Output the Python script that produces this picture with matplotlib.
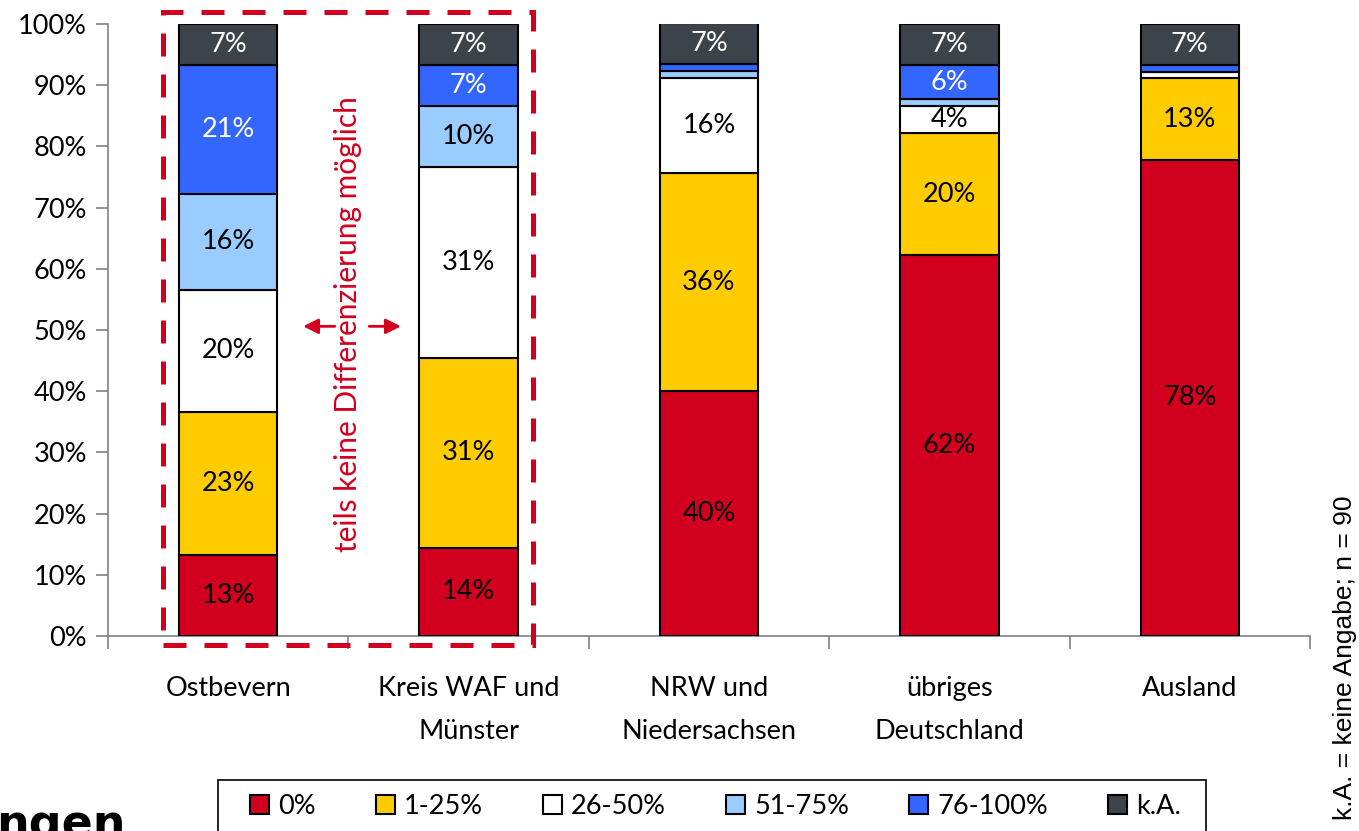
import matplotlib
matplotlib.use("Agg")
import matplotlib.pyplot as plt
from matplotlib.patches import Rectangle, Patch
import numpy as np

categories = ["Ostbevern", "Kreis WAF und\nMünster", "NRW und\nNiedersachsen", "übriges\nDeutschland", "Ausland"]
series_names = ["0%", "1-25%", "26-50%", "51-75%", "76-100%", "k.A."]
# percentages (n = 90)
v_0 = [13.3, 14.4, 40.0, 62.2, 77.8]
v_1_25 = [23.3, 31.1, 35.6, 20.0, 13.3]
v_26_50 = [20.0, 31.1, 15.6, 4.4, 1.1]
v_51_75 = [15.6, 10.0, 1.1, 1.1, 0.0]
v_76_100 = [21.1, 6.7, 1.1, 5.6, 1.1]
v_ka = [6.7, 6.7, 6.7, 6.7, 6.7]
series = [v_0, v_1_25, v_26_50, v_51_75, v_76_100, v_ka]
colors = ["#D2001E", "#FFCC00", "#FFFFFF", "#99CCFF", "#3366FF", "#3D434A"]
label_colors = ["black", "black", "black", "black", "white", "white"]

plt.rcParams['font.family'] = ['Lato', 'DejaVu Sans']

fig = plt.figure(figsize=(13.59, 8.31), dpi=100)
ax = fig.add_axes([108/1359, 1-636/831, (1310-108)/1359, (636-24)/831])

x = np.arange(len(categories))
bottom = np.zeros(len(categories))
for vals, col, lc in zip(series, colors, label_colors):
    vals = np.array(vals)
    ax.bar(x, vals, 0.41, bottom=bottom, color=col, edgecolor="black", linewidth=1.5, zorder=3)
    for xi, b, v in zip(x, bottom, vals):
        if v >= 3.5:
            ax.text(xi, b + v/2, f"{v:.0f}%", ha="center", va="center", fontsize=19.5, color=lc, zorder=4)
    bottom += vals

ax.set_xlim(-0.5, len(categories) - 0.5)
ax.set_ylim(0, 100)
ax.set_yticks(np.arange(0, 101, 10))
ax.set_yticklabels([f"{t}%" for t in range(0, 101, 10)], fontsize=19.5)
ax.set_xticks(x)
ax.set_xticklabels(categories, fontsize=19.5, linespacing=1.9)
ax.set_xticks(np.arange(-0.5, len(categories), 1), minor=True)
ax.tick_params(axis='x', which='major', length=0, pad=29)
ax.tick_params(axis='x', which='minor', length=9, direction='out', color='#808080', width=1.2)
ax.tick_params(axis='y', length=9, direction='out', color='#808080', width=1.2, pad=6)
for s in ['top', 'right']:
    ax.spines[s].set_visible(False)
for s in ['left', 'bottom']:
    ax.spines[s].set_color('#808080')
    ax.spines[s].set_linewidth(1.2)

# dashed red frame
rect = Rectangle((-0.271, -1.5), 1.538, 103.5, fill=False, edgecolor="#D2001E",
                 linewidth=3.6, linestyle=(0, (4.6, 3.6)), clip_on=False, zorder=5)
ax.add_patch(rect)
ax.text(0.5, 51, "teils keine Differenzierung möglich", rotation=90, ha="center", va="center",
        fontsize=21.5, color="#D2001E", zorder=5)
ax.annotate("", xy=(0.30, 50.6), xytext=(0.455, 50.6),
            arrowprops=dict(arrowstyle="-|>,head_length=0.9,head_width=0.45", color="#D2001E", lw=2))
ax.annotate("", xy=(0.73, 50.6), xytext=(0.575, 50.6),
            arrowprops=dict(arrowstyle="-|>,head_length=0.9,head_width=0.45", color="#D2001E", lw=2))

# side note
fig.text(1345/1359, 1-658/831, "k.A. = keine Angabe; n = 90", rotation=90, ha="center", va="center",
         fontsize=19, family="Liberation Sans")

# cut-off title fragment (cut at the bottom edge as in the source slide)
fig.text(-0.003, 1-838/831, "ngen", fontsize=33, fontweight="black", family="DejaVu Sans",
         ha="left", va="baseline")

# legend with manually drawn frame
frame = Rectangle((218/1359, -0.1), 988/1359, 0.1 + (1 - 780/831), transform=fig.transFigure,
                  fill=False, edgecolor="black", linewidth=1.2)
fig.patches.append(frame)
handles = [Patch(facecolor=c, edgecolor="black", linewidth=1.5) for c in colors]
leg = fig.legend(handles, series_names, loc="center left", bbox_to_anchor=(250/1359, 1-806/831),
                 ncol=6, fontsize=19.5, frameon=False,
                 borderaxespad=0, handlelength=0.7, handleheight=0.7, handletextpad=0.35,
                 columnspacing=2.2, borderpad=0)

fig.savefig("out.png", dpi=100)
